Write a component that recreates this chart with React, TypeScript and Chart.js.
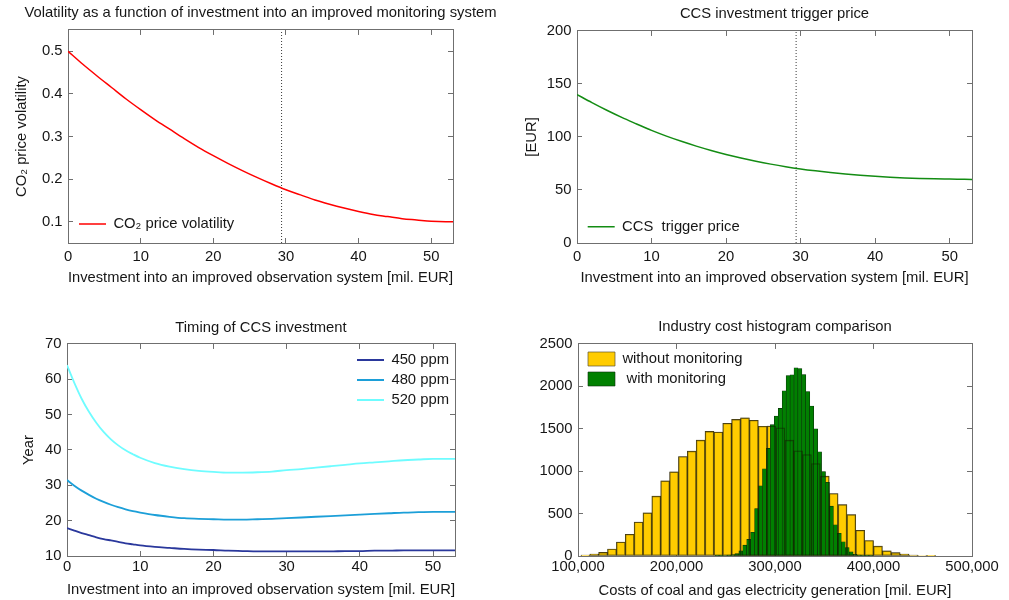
import React, { useEffect, useRef } from "react";
import { Chart, registerables } from "chart.js";

Chart.register(...registerables);

// ---------------- data ----------------
const INVEST_X = [0, 2, 4, 6, 8, 10, 12, 14, 16, 18, 20, 22, 24, 26, 28, 30, 32, 34, 36, 38, 40, 42, 44, 46, 48, 50, 52, 53];
const VOLATILITY = [0.5, 0.47, 0.442, 0.415, 0.388, 0.363, 0.339, 0.317, 0.295, 0.274, 0.255, 0.237, 0.22, 0.204, 0.189, 0.175, 0.163, 0.151, 0.141, 0.132, 0.124, 0.117, 0.112, 0.107, 0.104, 0.101, 0.1, 0.1];
const TRIGGER_PRICE = [140, 132.4, 125.2, 118.5, 112.3, 106.2, 100.8, 95.9, 91.4, 87.3, 83.5, 80.1, 77.1, 74.4, 72.0, 69.9, 68.1, 66.5, 65.1, 63.9, 62.9, 62.1, 61.4, 60.9, 60.5, 60.3, 60.1, 60.0];
const SELECTED_INVESTMENT = 29.4;

const TIMING_X = [0, 1, 2, 3, 4, 5, 6, 7, 8, 9, 10, 12, 14, 16, 18, 20, 22, 24, 26, 28, 30, 32, 34, 36, 38, 40, 42, 44, 46, 48, 50, 52, 53];
const YEAR_450 = [17.9, 17.2, 16.5, 15.9, 15.3, 14.8, 14.4, 14.0, 13.6, 13.3, 13.0, 12.6, 12.3, 12.0, 11.8, 11.7, 11.5, 11.4, 11.3, 11.3, 11.3, 11.3, 11.3, 11.3, 11.4, 11.4, 11.5, 11.5, 11.6, 11.6, 11.6, 11.6, 11.6];
const YEAR_480 = [31.5, 29.9, 28.5, 27.3, 26.2, 25.3, 24.5, 23.8, 23.2, 22.7, 22.3, 21.6, 21.1, 20.7, 20.5, 20.4, 20.3, 20.3, 20.4, 20.5, 20.7, 20.9, 21.1, 21.3, 21.5, 21.7, 21.9, 22.1, 22.3, 22.4, 22.5, 22.5, 22.5];
const YEAR_520 = [64, 59, 54.5, 50.8, 47.7, 45.1, 43.0, 41.3, 39.9, 38.8, 37.8, 36.3, 35.3, 34.6, 34.1, 33.8, 33.6, 33.6, 33.7, 33.9, 34.3, 34.6, 35.0, 35.4, 35.8, 36.2, 36.5, 36.8, 37.1, 37.3, 37.5, 37.5, 37.5];

const COST_BINS_NO_MON = [107500, 116500, 125500, 134500, 143500, 152500, 161500, 170500, 179500, 188500, 197500, 206500, 215500, 224500, 233500, 242500, 251500, 260500, 269500, 278500, 287500, 296500, 305500, 314500, 323500, 332500, 341500, 350500, 359500, 368500, 377500, 386500, 395500, 404500, 413500, 422500, 431500, 440500, 449500, 458500];
const COUNT_NO_MON = [10, 24, 43, 83, 165, 256, 400, 508, 705, 886, 992, 1173, 1236, 1366, 1469, 1461, 1565, 1610, 1628, 1600, 1530, 1532, 1512, 1366, 1240, 1197, 1090, 941, 736, 606, 488, 303, 183, 116, 60, 39, 24, 12, 6, 3];
const COST_BINS_MON = [241300, 245300, 249300, 253300, 257300, 261300, 265300, 269300, 273300, 277300, 281300, 285300, 289300, 293300, 297300, 301300, 305300, 309300, 313300, 317300, 321300, 325300, 329300, 333300, 337300, 341300, 345300, 349300, 353300, 357300, 361300, 365300, 369300, 373300, 377300, 381300, 385300, 389300, 393300, 397300];
const COUNT_MON = [2, 4, 6, 10, 16, 28, 60, 128, 196, 280, 560, 828, 1028, 1268, 1548, 1650, 1740, 1948, 2128, 2136, 2220, 2210, 2140, 1940, 1768, 1500, 1228, 996, 870, 588, 368, 268, 168, 100, 48, 20, 10, 5, 3, 1];

const INVEST_TICKS = [0, 10, 20, 30, 40, 50];
const VOL_TICKS = [0.1, 0.2, 0.3, 0.4, 0.5];
const EUR_TICKS = [0, 50, 100, 150, 200];
const YEAR_TICKS = [10, 20, 30, 40, 50, 60, 70];
const COST_TICKS = [100000, 200000, 300000, 400000, 500000];
const COUNT_TICKS = [0, 500, 1000, 1500, 2000, 2500];

const X_TITLE_INVEST = "Investment into an improved observation system [mil. EUR]";

// ---------------- style ----------------
const FONT_FAMILY = "'Liberation Sans', Arial, Helvetica, sans-serif";
const FONT_SIZE = 14.8;
const TEXT_COLOR = "#161616";
const AXIS_COLOR = "#6f6f6f";

const font = (size = FONT_SIZE) => ({ family: FONT_FAMILY, size, weight: "normal" as const, lineHeight: 1.2 });

interface PanelLayout {
  left: number; top: number; width: number; height: number;
  yWidth: number; xHeight: number; y2Width: number; titleFull: boolean;
  titlePadTop: number; titlePadBottom: number;
  xTitlePadBottom: number; yTitlePadTop: number; xTickPad: number;
  legendLeft: number; legendTop: number; legendPad: number;
}

const L_TL: PanelLayout = { left: 0, top: 0, width: 521, height: 300, yWidth: 68, xHeight: 57, y2Width: 68, titleFull: true, titlePadTop: 4.1, titlePadBottom: 8.1, xTitlePadBottom: 13.1, yTitlePadTop: 12.8, xTickPad: 9.8, legendLeft: 73.8, legendTop: 211.4, legendPad: 5.2 };
const L_TR: PanelLayout = { left: 505, top: 0, width: 504, height: 300, yWidth: 72, xHeight: 57, y2Width: 37, titleFull: false, titlePadTop: 5.1, titlePadBottom: 8.1, xTitlePadBottom: 13.1, yTitlePadTop: 17.8, xTickPad: 9.8, legendLeft: 77.5, legendTop: 214.1, legendPad: 5.2 };
const L_BL: PanelLayout = { left: 0, top: 300, width: 505, height: 300, yWidth: 67, xHeight: 44, y2Width: 50, titleFull: false, titlePadTop: 19.1, titlePadBottom: 7.1, xTitlePadBottom: 1.1, yTitlePadTop: 20.4, xTickPad: 7.1, legendLeft: 351.8, legendTop: 47.4, legendPad: 5.2 };
const L_BR: PanelLayout = { left: 505, top: 300, width: 504, height: 300, yWidth: 73, xHeight: 44, y2Width: 37, titleFull: false, titlePadTop: 18.1, titlePadBottom: 8.1, xTitlePadBottom: 0, yTitlePadTop: 0, xTickPad: 7.1, legendLeft: 77.8, legendTop: 46.4, legendPad: 5.2 };

const xy = (xs: number[], ys: number[]) => xs.map((x, i) => ({ x, y: ys[i] }));

const legendPlacer = {
  id: "legendPlacer",
  afterLayout(chart: any, _args: any, opts: any) {
    const lg = chart.legend;
    if (lg && opts && typeof opts.left === "number") {
      lg.left = opts.left;
      lg.top = opts.top;
      lg.right = chart.chartArea.right;
      lg.bottom = chart.chartArea.bottom;
    }
  },
};

function buildScales(p: {
  L: PanelLayout;
  xMin: number; xMax: number; xTicks: number[]; xFmt: (v: number) => string;
  yMin: number; yMax: number; yTicks: number[]; yFmt: (v: number) => string;
  xTitle: string; yTitle: string;
}) {
  const L = p.L;
  const tickMarks = () => ({ display: true, drawOnChartArea: false, drawTicks: true, tickLength: -5, color: AXIS_COLOR, lineWidth: 1, offset: false });
  const border = () => ({ display: true, color: AXIS_COLOR, width: 1 });
  const setTicks = (vals: number[]) => (scale: any) => {
    scale.ticks = vals.map((v) => ({ value: v }));
  };
  return {
    x: {
      type: "linear", position: "bottom", min: p.xMin, max: p.xMax, offset: false,
      afterBuildTicks: setTicks(p.xTicks),
      ticks: { callback: (v: any) => p.xFmt(Number(v)), font: font(), color: TEXT_COLOR, padding: L.xTickPad, maxRotation: 0, autoSkip: false },
      grid: tickMarks(), border: border(),
      title: { display: !!p.xTitle, text: p.xTitle, font: font(), color: TEXT_COLOR, padding: { top: 0, bottom: L.xTitlePadBottom } },
      afterFit: (s: any) => { s.height = L.xHeight; },
    },
    x2: {
      type: "linear", position: "top", min: p.xMin, max: p.xMax, offset: false,
      afterBuildTicks: setTicks(p.xTicks),
      ticks: { display: false },
      grid: tickMarks(), border: border(),
      afterFit: (s: any) => { s.height = 0; },
    },
    y: {
      type: "linear", position: "left", min: p.yMin, max: p.yMax,
      afterBuildTicks: setTicks(p.yTicks),
      ticks: { callback: (v: any) => p.yFmt(Number(v)), font: font(), color: TEXT_COLOR, padding: 10.5, autoSkip: false },
      grid: tickMarks(), border: border(),
      title: { display: !!p.yTitle, text: p.yTitle, font: font(), color: TEXT_COLOR, padding: { top: L.yTitlePadTop, bottom: 0 } },
      afterFit: (s: any) => { s.width = L.yWidth; },
    },
    y2: {
      type: "linear", position: "right", min: p.yMin, max: p.yMax,
      afterBuildTicks: setTicks(p.yTicks),
      ticks: { display: false },
      grid: tickMarks(), border: border(),
      afterFit: (s: any) => { s.width = L.y2Width; },
    },
  } as any;
}

function baseOptions(L: PanelLayout, title: string, kind: "line" | "box", scales: any) {
  return {
    responsive: false,
    maintainAspectRatio: false,
    animation: false,
    events: [],
    layout: { padding: 0 },
    scales,
    plugins: {
      title: { display: true, text: title, font: font(), color: TEXT_COLOR, fullSize: L.titleFull, padding: { top: L.titlePadTop, bottom: L.titlePadBottom } },
      tooltip: { enabled: false },
      legend: {
        display: true,
        position: "chartArea",
        align: "start",
        labels: {
          font: font(),
          color: TEXT_COLOR,
          padding: L.legendPad,
          usePointStyle: kind === "line",
          pointStyleWidth: kind === "line" ? 27 : undefined,
          boxWidth: 27,
          boxHeight: kind === "line" ? 13 : 14,
          filter: (item: any) => item.text !== "",
          sort: (a: any, b: any) => a.datasetIndex - b.datasetIndex,
        },
      },
      legendPlacer: { left: L.legendLeft, top: L.legendTop },
    },
  } as any;
}

const lineDs = (label: string, xs: number[], ys: number[], color: string, width: number) => ({
  type: "line",
  label,
  data: xy(xs, ys),
  borderColor: color,
  backgroundColor: color,
  borderWidth: width,
  pointRadius: 0,
  pointStyle: "line",
  cubicInterpolationMode: "monotone",
  fill: false,
  xAxisID: "x",
  yAxisID: "y",
});

const markerDs = (x: number, y0: number, y1: number) => ({
  type: "line",
  label: "",
  data: [{ x, y: y0 }, { x, y: y1 }],
  borderColor: "#3a3a3a",
  borderWidth: 1,
  borderDash: [1, 2],
  pointRadius: 0,
  fill: false,
  xAxisID: "x",
  yAxisID: "y",
});

const fmtInt = (v: number) => String(v);

function configVolatility() {
  const scales = buildScales({ L: L_TL, xMin: 0, xMax: 53, xTicks: INVEST_TICKS, xFmt: fmtInt, yMin: 0.05, yMax: 0.55, yTicks: VOL_TICKS, yFmt: (v) => v.toFixed(1), xTitle: X_TITLE_INVEST, yTitle: "CO\u2082 price volatility" });
  return {
    type: "line",
    data: { datasets: [lineDs("CO\u2082 price volatility", INVEST_X, VOLATILITY, "#ff0000", 1.5), markerDs(SELECTED_INVESTMENT, 0.05, 0.55)] },
    options: baseOptions(L_TL, "Volatility as a function of investment into an improved monitoring system", "line", scales),
    plugins: [legendPlacer],
  } as any;
}

function configTrigger() {
  const scales = buildScales({ L: L_TR, xMin: 0, xMax: 53, xTicks: INVEST_TICKS, xFmt: fmtInt, yMin: 0, yMax: 200, yTicks: EUR_TICKS, yFmt: fmtInt, xTitle: X_TITLE_INVEST, yTitle: "[EUR]" });
  return {
    type: "line",
    data: { datasets: [lineDs("CCS  trigger price", INVEST_X, TRIGGER_PRICE, "#138c13", 1.5), markerDs(SELECTED_INVESTMENT, 0, 200)] },
    options: baseOptions(L_TR, "CCS investment trigger price", "line", scales),
    plugins: [legendPlacer],
  } as any;
}

function configTiming() {
  const scales = buildScales({ L: L_BL, xMin: 0, xMax: 53, xTicks: INVEST_TICKS, xFmt: fmtInt, yMin: 10, yMax: 70, yTicks: YEAR_TICKS, yFmt: fmtInt, xTitle: X_TITLE_INVEST, yTitle: "Year" });
  return {
    type: "line",
    data: {
      datasets: [
        lineDs("450 ppm", TIMING_X, YEAR_450, "#2a389c", 1.8),
        lineDs("480 ppm", TIMING_X, YEAR_480, "#1c9fd8", 1.8),
        lineDs("520 ppm", TIMING_X, YEAR_520, "#6ffcff", 1.8),
      ],
    },
    options: baseOptions(L_BL, "Timing of CCS investment", "line", scales),
    plugins: [legendPlacer],
  } as any;
}

function configHistogram() {
  const scales = buildScales({ L: L_BR, xMin: 100000, xMax: 500000, xTicks: COST_TICKS, xFmt: (v) => v.toLocaleString("en-US"), yMin: 0, yMax: 2500, yTicks: COUNT_TICKS, yFmt: fmtInt, xTitle: "Costs of coal and gas electricity generation [mil. EUR]", yTitle: "" });
  scales.xg = { type: "linear", display: false, min: 100000, max: 500000, offset: false, grid: { offset: false } };
  const barCommon = { barPercentage: 1, categoryPercentage: 1, grouped: false, borderSkipped: false as const };
  return {
    type: "bar",
    data: {
      datasets: [
        { ...barCommon, label: "without monitoring", data: xy(COST_BINS_NO_MON, COUNT_NO_MON), backgroundColor: "#ffcc00", borderColor: "#5e5330", borderWidth: 0.7, xAxisID: "x", yAxisID: "y", order: 3 },
        { ...barCommon, label: " with monitoring", data: xy(COST_BINS_MON, COUNT_MON), backgroundColor: "#008000", borderColor: "#0b2b0b", borderWidth: 0.6, xAxisID: "xg", yAxisID: "y", order: 2 },
        { ...barCommon, label: "", data: xy(COST_BINS_NO_MON, COUNT_NO_MON), backgroundColor: "rgba(0,0,0,0)", borderColor: "rgba(20,20,0,0.5)", borderWidth: 0.7, xAxisID: "x", yAxisID: "y", order: 1 },
      ],
    },
    options: baseOptions(L_BR, "Industry cost histogram comparison", "box", scales),
    plugins: [legendPlacer],
  } as any;
}

function Panel({ layout, build }: { layout: PanelLayout; build: () => any }) {
  const ref = useRef<HTMLCanvasElement | null>(null);
  useEffect(() => {
    if (!ref.current) return;
    const chart = new Chart(ref.current, build());
    return () => chart.destroy();
  }, []);
  return (
    <canvas
      ref={ref}
      width={layout.width}
      height={layout.height}
      style={{ position: "absolute", left: layout.left, top: layout.top, width: layout.width, height: layout.height }}
    />
  );
}

export default function App() {
  return (
    <div style={{ position: "fixed", left: 0, top: 0, width: 1009, height: 600, background: "#ffffff", overflow: "hidden" }}>
      <Panel layout={L_TL} build={configVolatility} />
      <Panel layout={L_TR} build={configTrigger} />
      <Panel layout={L_BL} build={configTiming} />
      <Panel layout={L_BR} build={configHistogram} />
    </div>
  );
}
